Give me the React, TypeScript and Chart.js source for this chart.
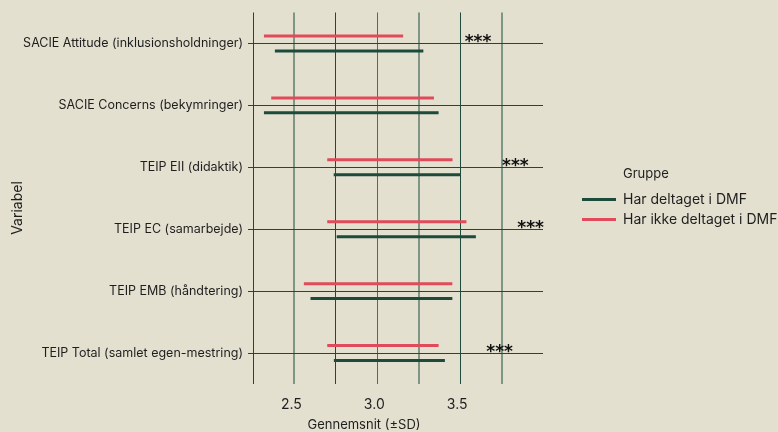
import React, { useEffect, useRef } from 'react';
import { Chart, registerables } from 'chart.js';

Chart.register(...registerables);

const categories = [
  'SACIE Attitude (inklusionsholdninger)',
  'SACIE Concerns (bekymringer)',
  'TEIP EII (didaktik)',
  'TEIP EC (samarbejde)',
  'TEIP EMB (håndtering)',
  'TEIP Total (samlet egen-mestring)',
];
const groupDeltaget = 'Har deltaget i DMF';
const groupIkke = 'Har ikke deltaget i DMF';
const meanDeltaget = [2.83, 2.843, 3.12, 3.175, 3.025, 3.073];
const sdDeltaget = [0.448, 0.527, 0.383, 0.42, 0.428, 0.335];
const meanIkke = [2.736, 2.851, 3.076, 3.118, 3.005, 3.034];
const sdIkke = [0.42, 0.491, 0.378, 0.42, 0.448, 0.336];
const significance = ['***', '', '***', '***', '', '***'];
const xTickLabels = [2.5, 3.0, 3.5];

const BG = '#e3e0d0';
const GREEN = '#1c4a3b';
const RED = '#e04a5a';
const TEXT = '#1e1e1e';
const FONT = 'Inter';

export default function App() {
  const ref = useRef<HTMLCanvasElement | null>(null);

  useEffect(() => {
    document.body.style.margin = '0';
    const canvas = ref.current;
    if (!canvas) return;

    const rangeIkke = meanIkke.map((m, i) => [m - sdIkke[i], m + sdIkke[i]]);
    const rangeDeltaget = meanDeltaget.map((m, i) => [m - sdDeltaget[i], m + sdDeltaget[i]]);

    const decor = {
      id: 'decor',
      beforeDraw(chart: any) {
        const c = chart.ctx;
        c.save();
        c.fillStyle = BG;
        c.fillRect(0, 0, chart.width, chart.height);
        c.restore();
      },
      afterDraw(chart: any) {
        const c = chart.ctx;
        const xs = chart.scales.x;
        const ys = chart.scales.y;
        c.save();
        c.fillStyle = '#111';
        c.font = `bold 17px "DejaVu Sans"`;
        c.textAlign = 'center';
        c.textBaseline = 'alphabetic';
        significance.forEach((s, i) => {
          if (!s) return;
          const hi = Math.max(rangeIkke[i][1], rangeDeltaget[i][1]);
          const px = xs.getPixelForValue(hi + 0.33);
          const py = ys.getPixelForValue(i);
          c.fillText(s, px, py + 4);
        });
        c.fillStyle = TEXT;
        c.font = `13px ${FONT}`;
        c.textBaseline = 'middle';
        c.fillText('Gennemsnit (±SD)', 364, 425);
        c.font = `14px ${FONT}`;
        c.translate(18, 208);
        c.rotate(-Math.PI / 2);
        c.fillText('Variabel', 0, 0);
        c.restore();
      },
    };

    const chart = new Chart(canvas, {
      type: 'bar',
      data: {
        labels: categories,
        datasets: [
          {
            label: groupIkke,
            data: rangeIkke as any,
            backgroundColor: RED,
            borderWidth: 0,
            borderSkipped: false,
            categoryPercentage: 0.484,
            barPercentage: 1,
            maxBarThickness: 3,
          },
          {
            label: groupDeltaget,
            data: rangeDeltaget as any,
            backgroundColor: GREEN,
            borderWidth: 0,
            borderSkipped: false,
            categoryPercentage: 0.484,
            barPercentage: 1,
            maxBarThickness: 3,
          },
        ],
      },
      options: {
        indexAxis: 'y',
        responsive: false,
        animation: false,
        devicePixelRatio: 1,
        layout: { padding: { top: 12, right: 235, bottom: 0, left: 0 } },
        plugins: { legend: { display: false }, tooltip: { enabled: false } },
        scales: {
          x: {
            type: 'linear',
            min: 2.25,
            max: 4.0,
            border: { display: false },
            grid: {
              drawTicks: false,
              color: (ctx: any) => {
                const v = ctx.tick ? ctx.tick.value : 0;
                if (v >= 3.99) return 'rgba(0,0,0,0)';
                if (v === 2.5 || v === 3.25 || v === 3.75) return 'rgba(28,74,59,0.5)';
                if (v === 3.0) return 'rgba(28,74,59,0.75)';
                return GREEN;
              },
              lineWidth: (ctx: any) => {
                const v = ctx.tick ? ctx.tick.value : 0;
                if (v === 2.5 || v === 3.25 || v === 3.75) return 2;
                return 1;
              },
            },
            ticks: {
              stepSize: 0.25,
              autoSkip: false,
              padding: 12,
              labelOffset: -3,
              color: TEXT,
              font: { family: FONT, size: 14 },
              callback: (v: any) => (xTickLabels.includes(Number(v)) ? Number(v).toFixed(1) : ''),
            },
            afterFit: (s: any) => {
              s.height = 48;
            },
          },
          y: {
            type: 'category',
            offset: true,
            border: { display: false },
            grid: {
              offset: false,
              color: GREEN,
              lineWidth: 1,
              tickLength: 5,
              drawTicks: true,
            },
            ticks: {
              padding: 5,
              color: TEXT,
              font: { family: FONT, size: 12.5 },
            },
            afterFit: (s: any) => {
              s.width = 253;
            },
          },
        },
      },
      plugins: [decor],
    } as any);

    return () => chart.destroy();
  }, []);

  const legendLine = (color: string) => ({
    position: 'absolute' as const,
    left: 582,
    width: 34,
    height: 3,
    background: color,
  });

  return (
    <div
      style={{
        position: 'fixed',
        left: 0,
        top: 0,
        width: 778,
        height: 432,
        background: BG,
        overflow: 'hidden',
        fontFamily: FONT,
        color: TEXT,
      }}
    >
      <canvas ref={ref} width={778} height={432} style={{ display: 'block' }} />
      <div style={{ position: 'absolute', left: 623, top: 164, fontSize: 13, lineHeight: '18px', whiteSpace: 'nowrap' }}>
        Gruppe
      </div>
      <div style={{ ...legendLine(GREEN), top: 198 }} />
      <div style={{ position: 'absolute', left: 623, top: 190, fontSize: 14, lineHeight: '18px', whiteSpace: 'nowrap' }}>
        {groupDeltaget}
      </div>
      <div style={{ ...legendLine(RED), top: 218 }} />
      <div style={{ position: 'absolute', left: 623, top: 210, fontSize: 14, lineHeight: '18px', whiteSpace: 'nowrap' }}>
        {groupIkke}
      </div>
    </div>
  );
}
